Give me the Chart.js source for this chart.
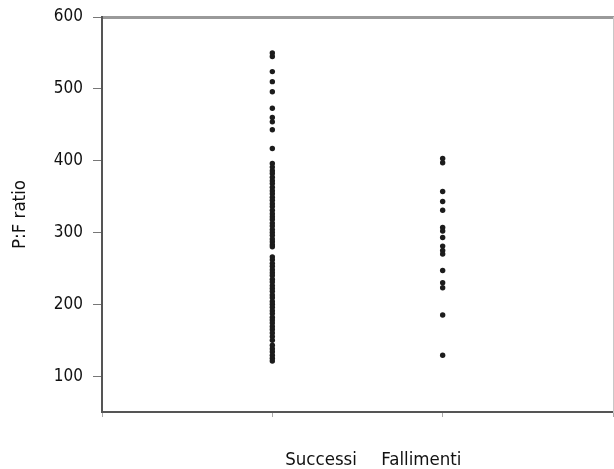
<!DOCTYPE html>
<html><head><meta charset="utf-8">
<script src="https://cdn.jsdelivr.net/npm/chart.js@4"></script>
<style>html,body{margin:0;padding:0;background:#fff}#wrap{width:614px;height:469px}</style>
</head><body><div id="wrap"><canvas id="c" width="614" height="469"></canvas></div>
<script>
const categories = ['Successi', 'Fallimenti'];
const categoryX = [1, 2];
const successiValues = [550, 545, 524, 510, 496, 473, 460, 454, 443, 417,
  396, 391, 386, 382, 377, 372, 368, 363, 358, 354, 349, 345, 340, 336, 331, 326, 322, 318, 313, 309, 304, 300, 296, 291, 287, 283, 280,
  266, 262, 257, 253, 248, 244, 240, 235, 231, 226, 222, 218, 213, 209, 204, 200, 196, 191, 187, 182, 178, 174, 169, 165, 160,
  155, 150, 143, 138, 134, 129, 125, 121];
const fallimentiValues = [403, 397, 357, 343, 331, 307, 302, 293, 281, 275, 270, 247, 230, 223, 185, 129];
const yTicks = [100, 200, 300, 400, 500, 600];
const yTitle = 'P:F ratio';
const NB = '\u00a0';
const xTitle = NB.repeat(6) + categories[0] + NB.repeat(4) + '\u2009' + categories[1];

const FONT = "'DejaVu Sans Condensed', 'Liberation Sans Narrow', 'Arial Narrow', sans-serif";
const ptColor = '#1c1c1c';
const txtColor = '#111';

new Chart(document.getElementById('c'), {
  type: 'scatter',
  data: {
    datasets: [
      { label: categories[0], data: successiValues.map(v => ({ x: categoryX[0], y: v })), backgroundColor: ptColor, borderColor: ptColor, pointRadius: 2.7, borderWidth: 0 },
      { label: categories[1], data: fallimentiValues.map(v => ({ x: categoryX[1], y: v })), backgroundColor: ptColor, borderColor: ptColor, pointRadius: 2.7, borderWidth: 0 }
    ]
  },
  options: {
    responsive: false,
    animation: false,
    devicePixelRatio: 1,
    layout: { padding: 0, autoPadding: false },
    plugins: { legend: { display: false }, tooltip: { enabled: false } },
    scales: {
      x: {
        type: 'linear', position: 'bottom', min: 0, max: 3,
        afterFit: s => { s.height = 57; s.paddingLeft = 0; s.paddingRight = 0; },
        ticks: { display: false, stepSize: 1 },
        grid: { drawOnChartArea: false, tickLength: 5, color: '#aaa' },
        border: { color: '#555', width: 2 },
        title: { display: true, text: xTitle, color: txtColor, font: { family: FONT, size: 18.5, lineHeight: 1 }, padding: { top: 0, bottom: 0 } }
      },
      x2: {
        type: 'linear', position: 'top', min: 0, max: 3,
        afterFit: s => { s.height = 17; s.paddingLeft = 0; s.paddingRight = 0; },
        ticks: { display: false },
        grid: { display: false },
        border: { color: '#9a9a9a', width: 3 }
      },
      y: {
        type: 'linear', position: 'left', min: 50, max: 600,
        afterFit: s => { s.width = 102; s.paddingTop = 0; s.paddingBottom = 0; },
        ticks: { stepSize: 50, padding: 10, color: txtColor, font: { family: FONT, size: 17 },
          callback: v => yTicks.includes(v) ? String(v) : '' },
        grid: { drawOnChartArea: false, tickLength: 9,
          tickColor: ctx => (ctx.tick && yTicks.includes(ctx.tick.value)) ? '#777' : 'rgba(0,0,0,0)' },
        border: { color: '#555', width: 2 },
        title: { display: true, text: yTitle, color: txtColor, font: { family: FONT, size: 18.5, lineHeight: 1 }, padding: { top: 11, bottom: 0 } }
      },
      y2: {
        type: 'linear', position: 'right', min: 50, max: 600,
        afterFit: s => { s.width = 1; s.paddingTop = 0; s.paddingBottom = 0; },
        ticks: { display: false },
        grid: { display: false },
        border: { color: '#c8c8c8', width: 1 }
      }
    }
  }
});
</script>
</body></html>
